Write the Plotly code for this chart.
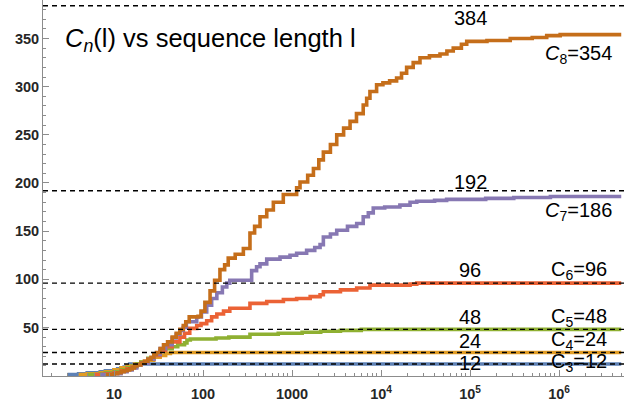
import numpy as np
import plotly.graph_objects as go

# ---------------- data ----------------
C3_l = [3, 4, 5, 6, 7, 8, 9, 10, 11, 12, 13, 14, 15, 5e6]
C3_v = [1, 2, 3, 3, 4, 5, 5, 6, 7, 8, 9, 10, 12, 12]

C4_l = [4, 5, 6, 7, 8, 10, 12, 14, 17, 20, 24, 28, 33, 38, 43, 5e6]
C4_v = [1, 2, 2, 3, 4, 6, 8, 10, 12, 14, 16, 19, 21, 23, 24, 24]

C5_l = [5, 6, 7, 8, 10, 12, 14, 16, 18, 20, 24, 28, 33, 38, 45, 52, 62, 66, 72,
        140, 195, 337, 700, 1300, 2100, 3500, 6000, 5e6]
C5_v = [1, 1, 2, 3, 4, 6, 8, 10, 12, 14, 18, 22, 26, 28, 30, 32, 34, 37, 38,
        39, 40, 43, 44, 45, 46, 47, 48, 48]

C6_l = [6, 7, 8, 10, 12, 14, 16, 18, 20, 24, 28, 33, 38, 45, 55, 62, 71, 85, 95,
        110, 125, 143, 170, 200, 337, 520, 800, 1127, 1600, 2066, 2250, 3500,
        5330, 7510, 21200, 25200, 5e6]
C6_v = [1, 1, 2, 3, 5, 7, 9, 11, 13, 17, 21, 26, 30, 35, 40, 44, 49, 52, 54,
        57, 61, 64, 67, 70, 75, 77, 79, 80, 82, 84, 87, 89,
        91, 94, 95, 96, 96]

C7_l = [7, 8, 10, 12, 14, 16, 18, 20, 24, 28, 33, 38, 45, 50, 55, 60, 65, 75, 85,
        96, 110, 125, 143, 165, 185, 200, 323, 352, 400, 437, 520, 733, 950,
        1127, 1459, 1800, 2066, 2250, 2700, 3180, 4200, 5330, 6310, 7200, 8180,
        11000, 16300, 21200, 25200, 40000, 54600, 150000, 310000, 800000, 5e6]
C7_v = [1, 1, 2, 4, 6, 8, 11, 13, 17, 22, 28, 32, 39, 43, 47, 50, 56, 56, 61,
        66, 73, 80, 86, 92, 96, 99, 99, 109, 113, 116, 121, 123, 125,
        127, 130, 133, 136, 144, 147, 151, 155, 158, 165, 169, 174,
        175, 177, 180, 181, 182, 183, 184, 185, 186, 186]

C8_l = [8, 9, 10, 11, 12, 13, 14, 15, 16, 17, 18, 20, 22, 24, 26, 28, 30, 33, 36,
        40, 45, 50, 55, 60, 64, 70, 88, 95, 105, 120, 135, 155, 175, 192, 230,
        284, 337, 380, 437, 520, 617, 798, 1127, 1230, 1500, 1740, 2000, 2250,
        2700, 3180, 3800, 4490, 5300, 6310, 6900, 7510, 8920, 10500, 12500,
        14960, 17000, 19400, 23000, 27400, 35000, 46000, 55000, 64800, 80000,
        91800, 155000, 283000, 500000, 727000, 1030000, 5e6]
C8_v = [1, 1, 2, 3, 4, 5, 6, 7, 8, 10, 11, 13, 15, 17, 19, 22, 24, 28, 32,
        35, 40, 44, 48, 52, 56, 61, 61.5, 67, 76, 88, 99, 110, 115, 122, 126,
        132, 148, 155, 165, 172, 180, 188, 195, 201, 208, 215, 224, 232,
        240, 250, 257, 264, 272, 281, 288, 295, 302, 304, 306,
        309, 314, 320, 325, 330, 332, 334, 337, 340, 344,
        347, 348, 350, 351, 353, 354, 354]

bounds = [12, 24, 48, 96, 192, 384]
final_vals = [12, 24, 48, 96, 186, 354]
series_names = ["C3", "C4", "C5", "C6", "C7", "C8"]
x_tick_vals = [10, 100, 1000, 1e4, 1e5, 1e6]
x_tick_text = ["10", "100", "1000", "10<sup>4</sup>", "10<sup>5</sup>", "10<sup>6</sup>"]
y_tick_vals = [50, 100, 150, 200, 250, 300, 350]

# ---------------- style ----------------
colors = ["#5E81B5", "#E19C24", "#8FB032", "#EB6235", "#8778B3", "#C56E1A"]
FONT = "Liberation Sans, Arial, sans-serif"

fig = go.Figure()
all_l = [C3_l, C4_l, C5_l, C6_l, C7_l, C8_l]
all_v = [C3_v, C4_v, C5_v, C6_v, C7_v, C8_v]
for name, ls, vs, c in zip(series_names, all_l, all_v, colors):
    fig.add_trace(go.Scatter(x=ls, y=vs, mode="lines", name=name,
                             line=dict(color=c, width=3.6, shape="hv"),
                             showlegend=False, hoverinfo="skip"))

for b in bounds:
    fig.add_shape(type="line", xref="paper", x0=0, x1=1, yref="y", y0=b, y1=b,
                  line=dict(color="black", width=1.4, dash="5px,4px"), layer="above")

# bound labels
bound_shift = [1.5, 12, 12, 13, 9, -12.5]
for b, s in zip(bounds, bound_shift):
    fig.add_annotation(x=5.0, y=b, xref="x", yref="y", text=str(b), showarrow=False,
                       xanchor="center", yanchor="middle", yshift=s,
                       font=dict(family=FONT, size=20, color="black"))

# C labels
c_shift = [1.5, 12, 12, 13, -15, -20]
for i, (name, fv, s) in enumerate(zip(series_names, final_vals, c_shift)):
    n = name[1:]
    if i >= 4:
        txt = f"<i>C</i><sub>{n}</sub>={fv}"
    else:
        txt = f"C<sub>{n}</sub>={fv}"
    fig.add_annotation(x=6.22, y=fv, xref="x", yref="y", text=txt, showarrow=False,
                       xanchor="center", yanchor="middle", yshift=s,
                       font=dict(family=FONT, size=20, color="black"))

# title
fig.add_annotation(x=0.034, y=0.894, xref="paper", yref="paper",
                   text="<i>C<sub>n</sub></i>(l) vs sequence length l",
                   showarrow=False, xanchor="left", yanchor="middle",
                   font=dict(family=FONT, size=25.5, color="black"))

minor_x = [m * 10 ** e for e in range(0, 7) for m in range(2, 10) if 1.5 < m * 10 ** e < 5.5e6]
minor_y = [v for v in range(10, 390, 10) if v % 50 != 0]

tickfont = dict(family="Liberation Sans", size=14.5, color="#262626", weight="bold")
fig.update_xaxes(type="log", range=[0.2022, 6.73], showgrid=False, zeroline=False,
                 showline=True, linecolor="#8c8c8c", linewidth=1,
                 tickmode="array", tickvals=x_tick_vals, ticktext=x_tick_text,
                 ticks="inside", ticklen=6, tickcolor="#8c8c8c",
                 ticklabelstandoff=5,
                 minor=dict(tickmode="array", tickvals=minor_x, ticks="inside",
                            ticklen=3, tickcolor="#8c8c8c", showgrid=False))
fig.update_yaxes(range=[-0.4, 390.0], showgrid=False, zeroline=False,
                 showline=True, linecolor="#8c8c8c", linewidth=1,
                 tickmode="array", tickvals=y_tick_vals,
                 ticks="inside", ticklen=6, tickcolor="#8c8c8c",
                 minor=dict(tickmode="array", tickvals=minor_y, ticks="inside",
                            ticklen=3, tickcolor="#8c8c8c", showgrid=False))
fig.update_layout(xaxis_tickfont=tickfont, yaxis_tickfont=tickfont)

fig.update_layout(width=624, height=404, margin=dict(l=43, r=0, t=0, b=28),
                  plot_bgcolor="white", paper_bgcolor="white")

fig.write_html("out.html", config={"displayModeBar": False},
               post_script="document.body.style.margin='0';")
